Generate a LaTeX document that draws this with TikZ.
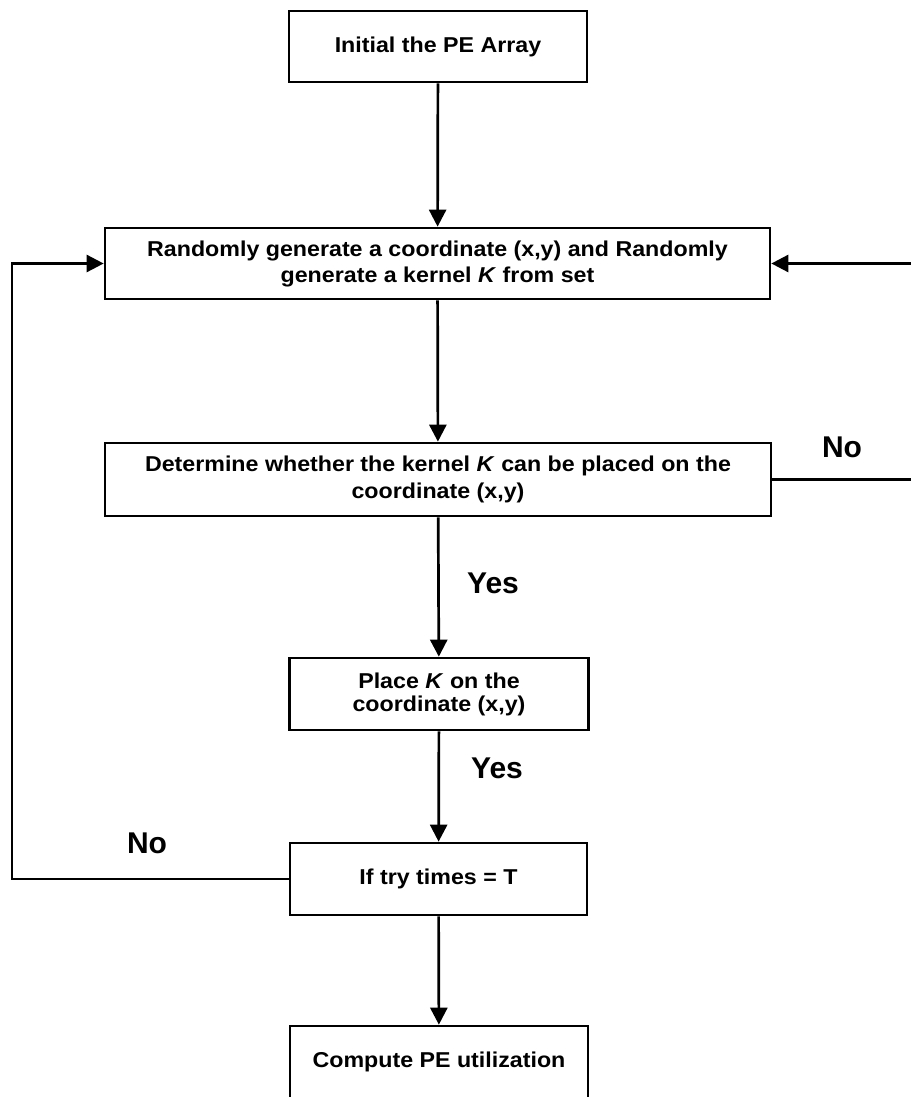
\documentclass[tikz,border=0pt]{standalone}
\usepackage{fontspec}
\setmainfont{Liberation Sans}
% box captions are set in a slightly widened face
\newfontfamily\boxfont[FakeStretch=1.08]{Liberation Sans}
\usetikzlibrary{arrows.meta}
\begin{document}
\begin{tikzpicture}[x=1pt,y=-1pt,
  box/.style={draw, line width=2.7pt, inner sep=0pt, align=center,
    font=\boxfont\fontsize{21.5}{24}\selectfont\bfseries},
  flow/.style={line width=2.7pt, -{Triangle[length=17pt,width=17pt]}},
  link/.style={line width=2.7pt},
  tag/.style={font=\fontsize{30}{32}\selectfont\bfseries}]
\useasboundingbox (0,0) rectangle (910,1097);

% process boxes
\node[box, minimum width=298pt, minimum height=71pt] (init) at (438,46.5) {Initial the PE Array};
\node[box, minimum width=665pt, minimum height=71pt, font=\boxfont\fontsize{21.5}{26}\selectfont\bfseries] (gen) at (437.5,263.5)
  {Randomly generate a coordinate (x,y) and Randomly\\generate a kernel \textit{K} from set};
\node[box, minimum width=666pt, minimum height=73pt, font=\boxfont\fontsize{21.5}{27}\selectfont\bfseries] (chk) at (438,479.5)
  {Determine whether the kernel \textit{K} can be placed on the\\coordinate (x,y)};
\node[box, minimum width=299pt, minimum height=72pt, font=\boxfont\fontsize{21.5}{23}\selectfont\bfseries] (place) at (439,694)
  {Place \textit{K} on the\\coordinate (x,y)};
\node[box, minimum width=297pt, minimum height=72pt] (try) at (438.5,879) {If try times = T};
\node[box, minimum width=298pt, minimum height=72pt] (util) at (439,1062) {Compute PE utilization};

% main flow
\draw[flow] (init) -- (gen);
\draw[flow] (gen) -- (chk);
\draw[flow] (chk) -- (place);
\draw[flow] (place) -- (try);
\draw[flow] (try) -- (util);

% feedback loops
\coordinate (rightrail) at (918,371);
\coordinate (leftrail) at (12,571);
\draw[link] (chk.east) -| (rightrail);
\draw[flow] (rightrail) |- (gen.east);
\draw[link] (try.west) -| (leftrail);
\draw[flow] (leftrail) |- (gen.west);

% branch labels
\node[tag] (noright) at (842,447) {No};
\node[tag] (yesone) at (493,583) {Yes};
\node[tag] (noleft) at (147,843) {No};
\node[tag] (yestwo) at (497,768) {Yes};
\end{tikzpicture}
\end{document}
